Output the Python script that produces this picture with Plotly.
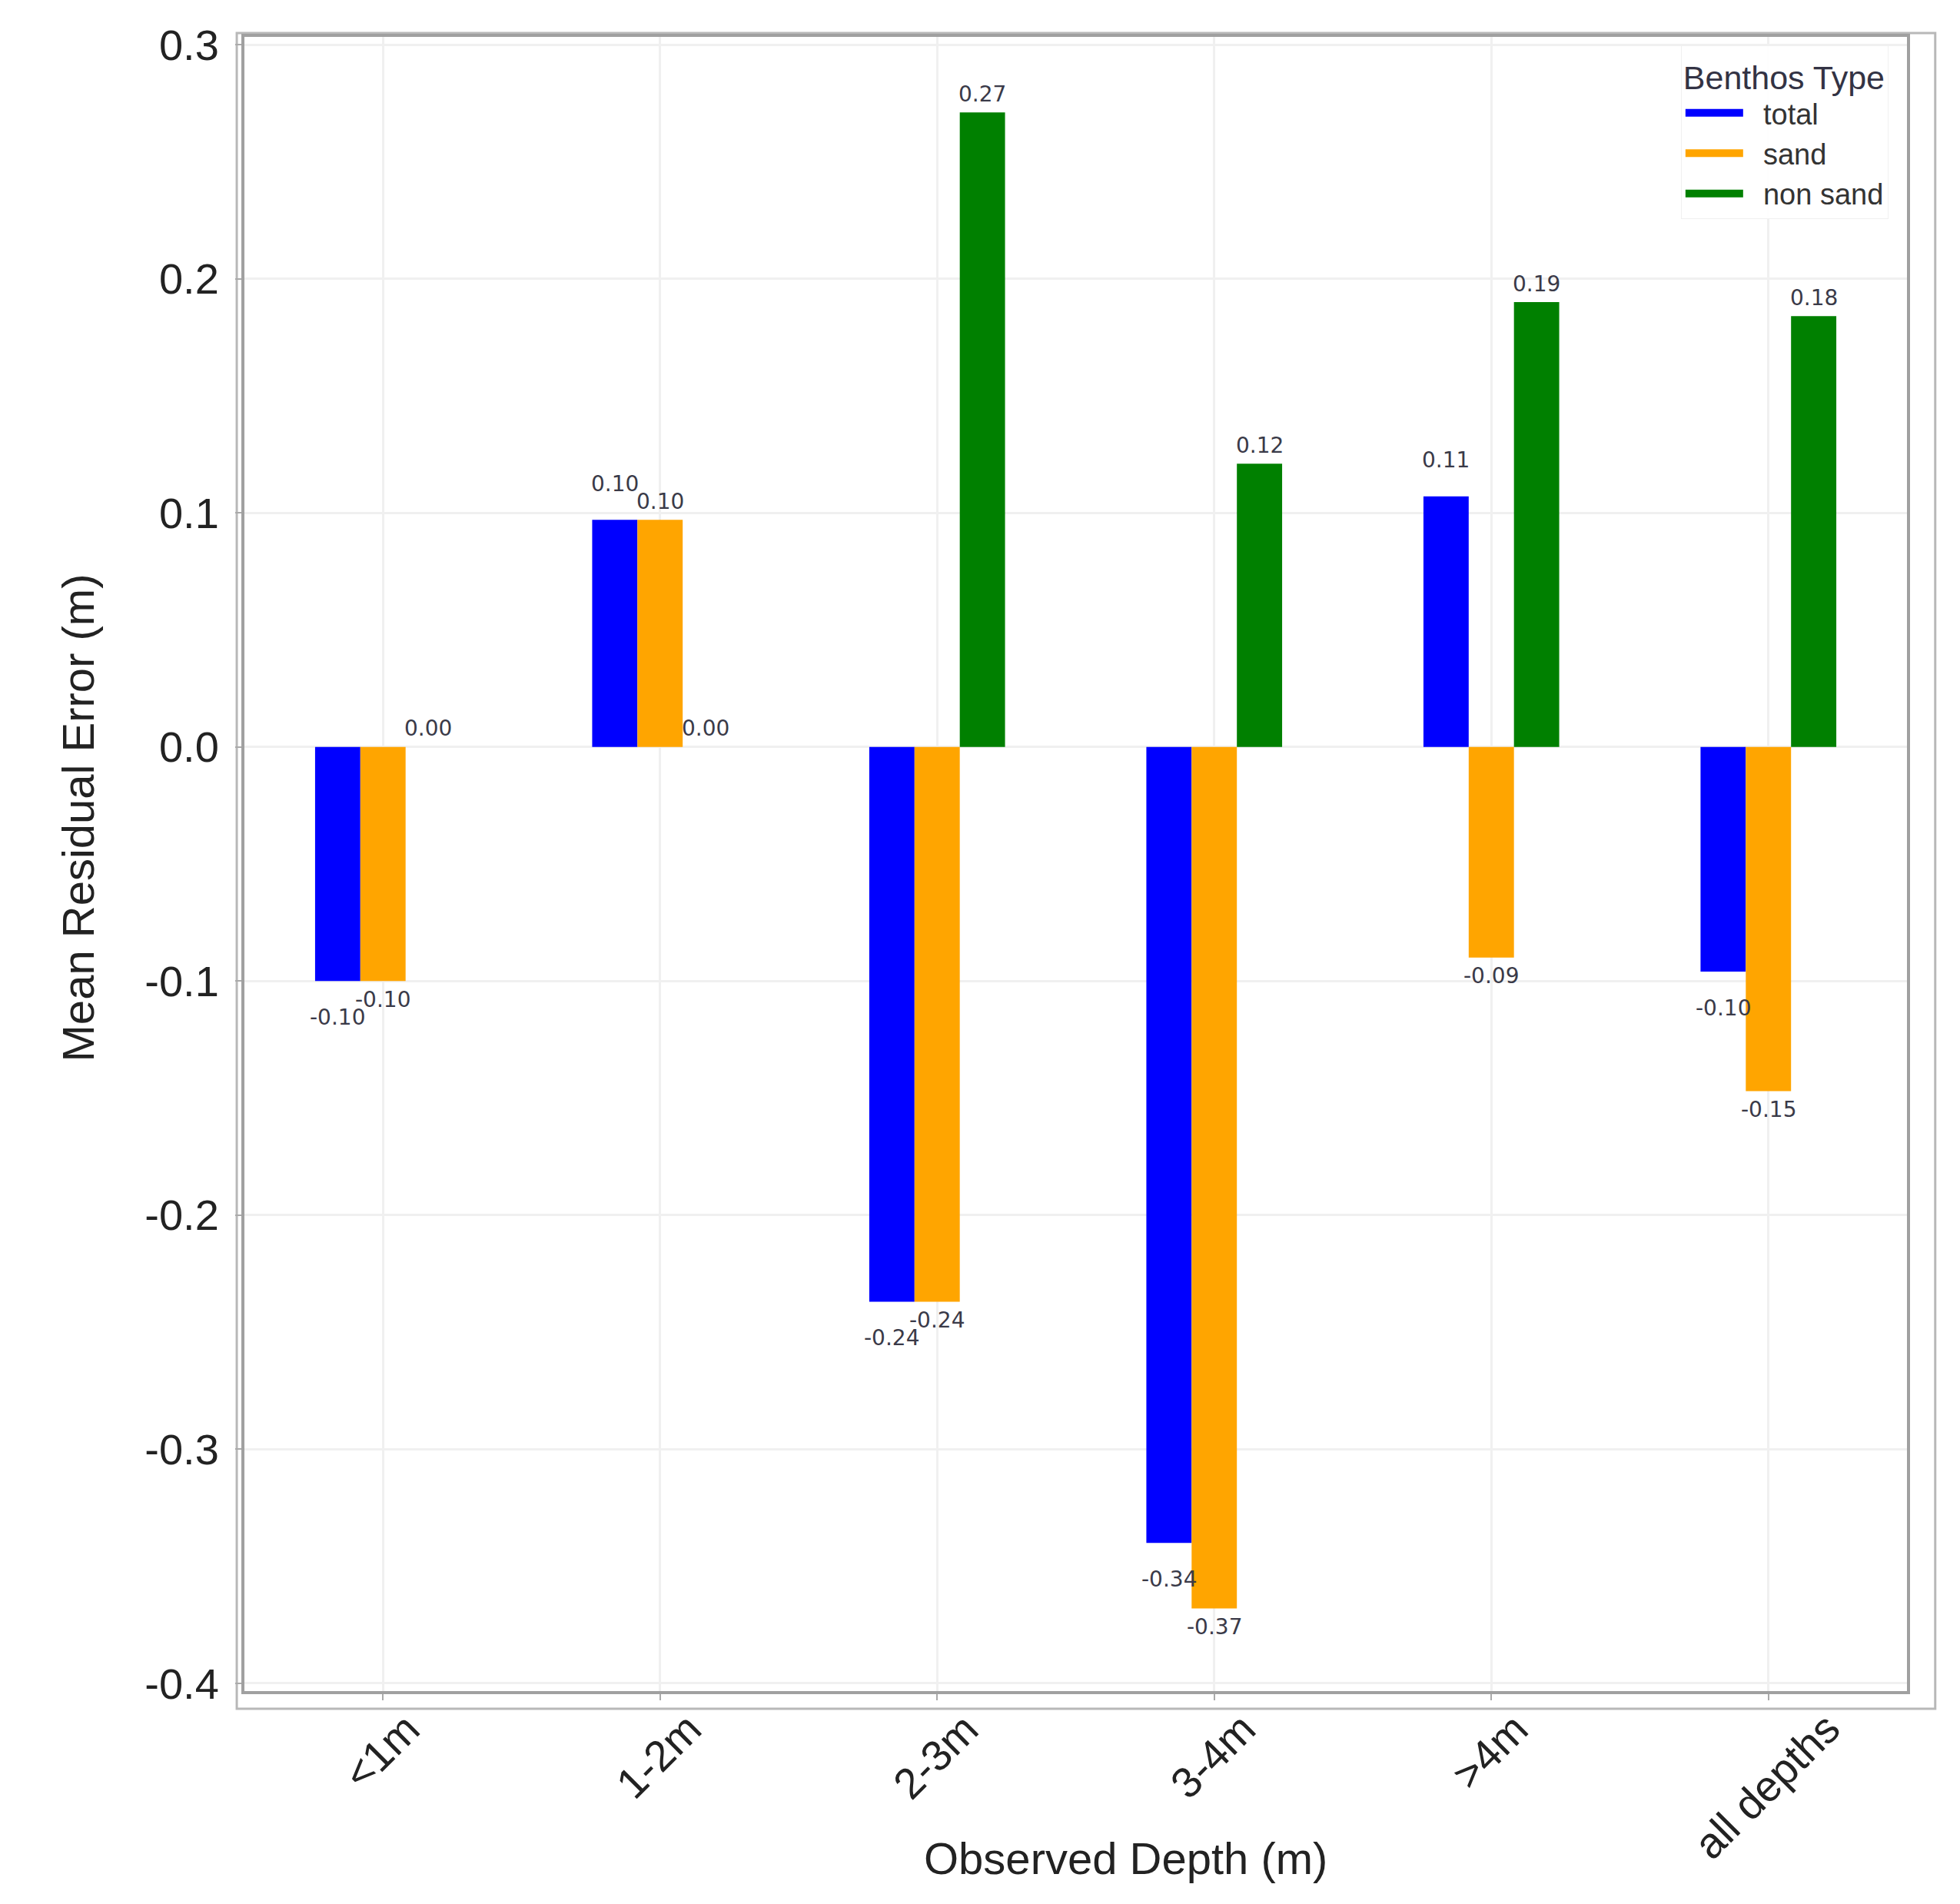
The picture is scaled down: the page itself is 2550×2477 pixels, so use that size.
import plotly.graph_objects as go

# ---- data ----
categories = ["<1m", "1-2m", "2-3m", "3-4m", ">4m", "all depths"]
series_names = ["total", "sand", "non sand"]
total_vals = [-0.100, 0.097, -0.237, -0.340, 0.107, -0.096]
sand_vals = [-0.100, 0.097, -0.237, -0.368, -0.090, -0.147]
nonsand_vals = [0.000, 0.000, 0.271, 0.121, 0.190, 0.184]
y_tick_vals = [-0.4, -0.3, -0.2, -0.1, 0.0, 0.1, 0.2, 0.3]
y_tick_text = ["-0.4", "-0.3", "-0.2", "-0.1", "0.0", "0.1", "0.2", "0.3"]
x_title = "Observed Depth (m)"
y_title = "Mean Residual Error (m)"
legend_title = "Benthos Type"

colors = ["#0000ff", "#ffa500", "#008000"]
series_vals = [total_vals, sand_vals, nonsand_vals]

BARGAP = 0.51
label_gap = [47, 24, 24]  # px offset of value labels from bar ends, per series
TEXT = "#222222"

fig = go.Figure()
for name, vals, col in zip(series_names, series_vals, colors):
    fig.add_trace(go.Bar(
        x=categories, y=vals, name=name, showlegend=False,
        marker=dict(color=col, line=dict(width=0)),
    ))
# legend entries drawn as thick line swatches (like the reference's wide patches)
for name, col in zip(series_names, colors):
    fig.add_trace(go.Scatter(
        x=[categories[0]], y=[None], mode="lines", name="\u00a0\u00a0" + name,
        line=dict(color=col, width=20), hoverinfo="skip",
    ))

# value labels
bw = (1 - BARGAP) / 3
annotations = []
for j, vals in enumerate(series_vals):
    for i, v in enumerate(vals):
        sign = 1 if v >= 0 else -1
        annotations.append(dict(
            x=i + (j - 1) * bw, y=v, xref="x", yref="y",
            text=f"{v:.2f}", showarrow=False,
            yanchor="middle", xanchor="center",
            yshift=sign * label_gap[j],
            font=dict(family="DejaVu Sans", size=28, color="#3a3a48"),
        ))

# rotated category labels, centred under their ticks (matplotlib style)
for i, c in enumerate(categories):
    annotations.append(dict(
        x=i, y=0, xref="x", yref="paper", text=c, showarrow=False,
        textangle=-45, xanchor="center", yanchor="top", yshift=-14, xshift=-2,
        font=dict(size=56, color=TEXT),
    ))

# axis titles
annotations.append(dict(
    x=0.530, y=-0.101, xref="paper", yref="paper", text=x_title, showarrow=False,
    xanchor="center", yanchor="middle", font=dict(size=58, color=TEXT),
))
annotations.append(dict(
    x=-0.100, y=0.528, xref="paper", yref="paper", text=y_title, showarrow=False,
    textangle=-90, xanchor="center", yanchor="middle", font=dict(size=58, color=TEXT),
))

fig.update_layout(
    width=2550, height=2477,
    margin=dict(l=310, r=77, t=40, b=285, pad=0),
    paper_bgcolor="white", plot_bgcolor="white",
    barmode="group", bargap=BARGAP, bargroupgap=0,
    font=dict(family="Liberation Sans, Arial, sans-serif", color=TEXT),
    annotations=annotations,
    legend=dict(
        title=dict(text=legend_title, font=dict(size=43, color="#333344")),
        font=dict(size=38, color="#333333"),
        x=0.864, y=0.995, xanchor="left", yanchor="top",
        bgcolor="rgba(255,255,255,0.9)", bordercolor="#f0f0f0", borderwidth=1,
        itemwidth=75, tracegroupgap=0,
    ),
    shapes=[dict(
        type="rect", xref="paper", yref="paper",
        x0=-0.0046, x1=1.017, y0=-0.0107, y1=1.0023,
        line=dict(color="#b8b8b8", width=3), fillcolor="rgba(0,0,0,0)", layer="below",
    )],
)

fig.update_xaxes(
    type="category", range=[-0.5, 5.5], showticklabels=False,
    ticks="outside", ticklen=8, tickcolor="#aaaaaa", tickwidth=2,
    showgrid=True, gridcolor="#f0f0f0", gridwidth=3,
    showline=True, linecolor="#a0a0a0", linewidth=4, mirror=True,
)
fig.update_yaxes(
    range=[-0.4033, 0.3033],
    tickvals=y_tick_vals, ticktext=y_tick_text,
    tickfont=dict(size=56, color=TEXT), ticklabelstandoff=10,
    ticks="outside", ticklen=8, tickcolor="#aaaaaa", tickwidth=2,
    showgrid=True, gridcolor="#f0f0f0", gridwidth=3, zeroline=False,
    showline=True, linecolor="#a0a0a0", linewidth=4, mirror=True,
)

fig.write_html("out.html")
